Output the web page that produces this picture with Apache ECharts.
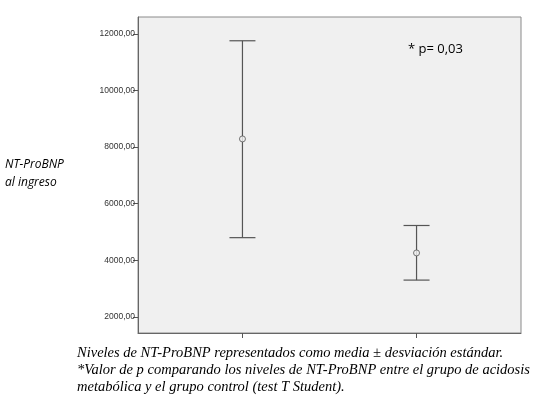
<!DOCTYPE html>
<html>
<head>
<meta charset="utf-8">
<script src="https://cdn.jsdelivr.net/npm/echarts@6/dist/echarts.min.js"></script>
<style>html,body{margin:0;padding:0;background:#fff;}#c{width:558px;height:413px;}</style>
</head>
<body>
<div id="c"></div>
<script>
var groups = ['Acidosis metabólica', 'Control'];
var groupPos = [0, 1];
var means = [8290, 4260];
var upper = [11760, 5230];
var lower = [4800, 3300];
var yTicks = [2000, 4000, 6000, 8000, 10000, 12000];

var chart = echarts.init(document.getElementById('c'), null, {renderer: 'canvas'});
var barData = groupPos.map(function (p, i) { return [p, lower[i], upper[i]]; });
var meanData = groupPos.map(function (p, i) { return [p, means[i]]; });

chart.setOption({
  animation: false,
  grid: {left: 138, top: 17, right: 37, bottom: 80, show: true, backgroundColor: '#f0f0f0', borderColor: '#8a8a8a', borderWidth: 1},
  xAxis: {
    type: 'value', min: -0.6, max: 1.6,
    axisLine: {show: true, onZero: false, lineStyle: {color: '#666', width: 1}},
    axisTick: {show: true, inside: false, length: 5, customValues: groupPos, lineStyle: {color: '#555'}},
    axisLabel: {show: false},
    splitLine: {show: false}
  },
  yAxis: {
    type: 'value', min: 1430, max: 12600,
    axisLine: {show: true, onZero: false, lineStyle: {color: '#666', width: 1}},
    axisTick: {show: true, inside: false, length: 5, customValues: yTicks, lineStyle: {color: '#555'}},
    axisLabel: {customValues: yTicks, fontSize: 8.5, color: '#333', fontFamily: 'Liberation Sans, Arial', margin: 3,
      formatter: function (v) { return v.toFixed(2).replace('.', ','); }},
    splitLine: {show: false}
  },
  series: [
    {
      type: 'custom',
      data: barData,
      renderItem: function (params, api) {
        var x = api.value(0);
        var lo = api.coord([x, api.value(1)]);
        var hi = api.coord([x, api.value(2)]);
        var hw = 13;
        var st = {stroke: '#555', lineWidth: 1.2};
        return {type: 'group', children: [
          {type: 'line', shape: {x1: hi[0], y1: hi[1], x2: lo[0], y2: lo[1]}, style: st},
          {type: 'line', shape: {x1: hi[0] - hw, y1: hi[1], x2: hi[0] + hw, y2: hi[1]}, style: st},
          {type: 'line', shape: {x1: lo[0] - hw, y1: lo[1], x2: lo[0] + hw, y2: lo[1]}, style: st}
        ]};
      },
      z: 2
    },
    {
      type: 'scatter', data: meanData, symbol: 'circle', symbolSize: 6,
      itemStyle: {color: '#f0f0f0', borderColor: '#555', borderWidth: 1}, z: 3
    }
  ],
  graphic: [
    {type: 'text', left: 5, top: 156, style: {text: 'NT-ProBNP\nal ingreso', font: 'italic 12px "Open Sans", "Liberation Sans", sans-serif', fill: '#000', lineHeight: 18}},
    {type: 'text', left: 408, top: 43, style: {text: '* p= 0,03', font: '13px "Open Sans", "Liberation Sans", sans-serif', fill: '#000'}},
    {type: 'text', left: 77, top: 345, style: {text: 'Niveles de NT-ProBNP representados como media \u00b1 desviación estándar.\n*Valor de p comparando los niveles de NT-ProBNP entre el grupo de acidosis\nmetabólica y el grupo control (test T Student).', font: 'italic 14.5px "Liberation Serif", "Times New Roman", serif', fill: '#000', lineHeight: 17}}
  ]
});
</script>
</body>
</html>
